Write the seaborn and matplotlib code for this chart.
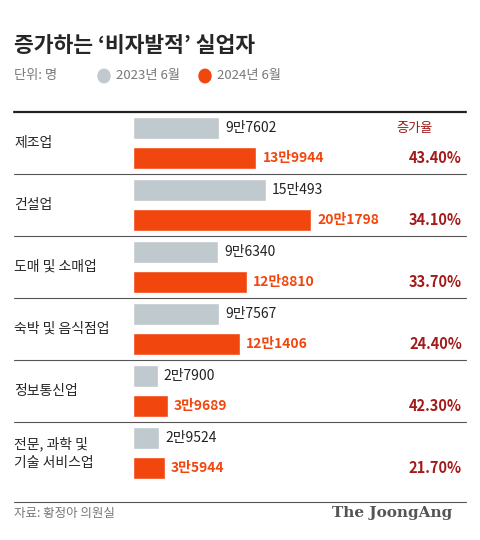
import matplotlib
matplotlib.use('Agg')
import matplotlib.pyplot as plt
import seaborn as sns
import pandas as pd

sns.set_style("white")
plt.rcParams['font.family'] = ['Noto Sans CJK KR', 'DejaVu Sans']

categories = ['제조업', '건설업', '도매 및 소매업', '숙박 및 음식점업', '정보통신업', '전문, 과학 및\n기술 서비스업']
v2023 = [97602, 150493, 96340, 97567, 27900, 29524]
v2024 = [139944, 201798, 128810, 121406, 39689, 35944]
lab2023 = ['9만7602', '15만493', '9만6340', '9만7567', '2만7900', '2만9524']
lab2024 = ['13만9944', '20만1798', '12만8810', '12만1406', '3만9689', '3만5944']
growth = ['43.40%', '34.10%', '33.70%', '24.40%', '42.30%', '21.70%']
years = ['2023년 6월', '2024년 6월']

GRAY = '#c0c9cd'
RED = '#f2460f'
DARK_RED = '#a31a1a'

df = pd.DataFrame({
    'cat': categories * 2,
    'year': [years[0]] * 6 + [years[1]] * 6,
    'val': v2023 + v2024,
})

W, H = 480, 540
fig = plt.figure(figsize=(W / 100, H / 100), dpi=100)
fig.patch.set_facecolor('white')

# axes spans full width; 0 sits at 133px, 201798 at 311px
x0, x1 = 133, 311
scale = 201798 / (x1 - x0)
ax = fig.add_axes([0, (H - 502) / H, 1, 390 / H])
sns.barplot(data=df, y='cat', x='val', hue='year', orient='h', saturation=1,
            palette=[GRAY, RED], width=0.96, gap=0.25, legend=False, ax=ax)
ax.set_xlim(-x0 * scale, (W - x0) * scale)
ax.set_ylim(5.79, -0.5)
ax.axis('off')

def px(x):
    return (x - x0) * scale

for i in range(6):
    ax.text(px(14), i, categories[i], fontsize=10, va='center', ha='left', linespacing=1.4)
    ax.text(v2023[i] + 6 * scale, i - 0.24, lab2023[i], fontsize=10, va='center', color='#222222')
    ax.text(v2024[i] + 6 * scale, i + 0.24, lab2024[i], fontsize=10, va='center',
            color=RED, fontweight='bold')
    ax.text(px(462), i + 0.24, growth[i], fontsize=10.5, va='center', ha='right',
            color=DARK_RED, fontweight='bold')
ax.text(px(415), -0.24, '증가율', fontsize=9.5, va='center', ha='center', color=DARK_RED)

ax.plot([px(14), px(466)], [-0.5, -0.5], color='#222222', lw=1.6, clip_on=False)
for i in range(5):
    ax.plot([px(14), px(466)], [i + 0.5, i + 0.5], color='#555555', lw=0.8, clip_on=False)
ax.plot([px(14), px(466)], [5.79, 5.79], color='#555555', lw=0.8, clip_on=False)

# header
fig.text(14 / W, 1 - 45 / H, '증가하는 ‘비자발적’ 실업자', fontsize=15.5, fontweight='bold', va='center')
fig.text(14 / W, 1 - 76 / H, '단위: 명', fontsize=9.5, color='#777777', va='center')
fig.patches.append(plt.Circle((104 / W, 1 - 76 / H), 6 / W, transform=fig.transFigure,
                              color=GRAY, figure=fig))
fig.text(116 / W, 1 - 76 / H, years[0], fontsize=9.5, color='#777777', va='center')
fig.patches.append(plt.Circle((205 / W, 1 - 76 / H), 6 / W, transform=fig.transFigure,
                              color=RED, figure=fig))
fig.text(217 / W, 1 - 76 / H, years[1], fontsize=9.5, color='#777777', va='center')

fig.text(14 / W, 1 - 513 / H, '자료: 황정아 의원실', fontsize=9, color='#777777', va='center')
fig.text(452 / W, 1 - 513 / H, 'The JoongAng', fontsize=11, fontweight='bold', va='center',
         ha='right', color='#555555', family='DejaVu Serif')

fig.savefig('out.png', dpi=100, facecolor='white')
